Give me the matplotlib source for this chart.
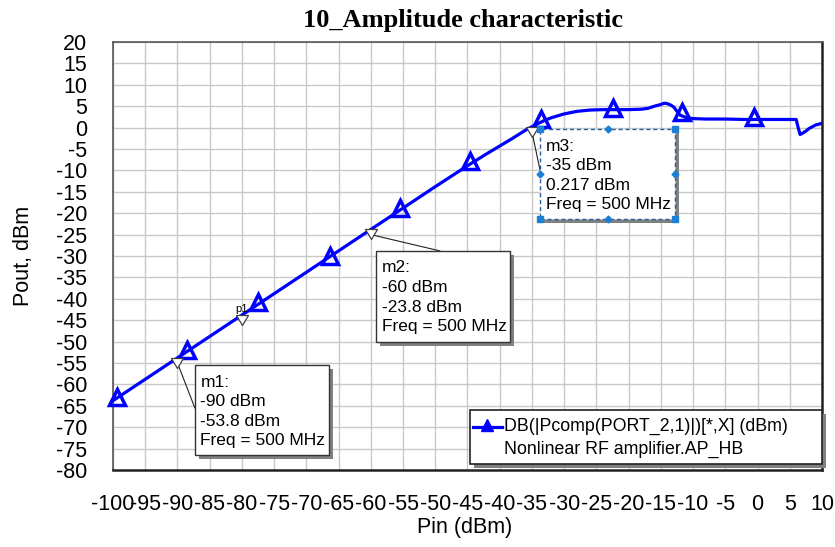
import matplotlib.pyplot as plt
from matplotlib.patches import Rectangle
from matplotlib.path import Path
import matplotlib.patheffects as pe

plt.rcParams['font.family'] = 'Liberation Sans'

# swept input power and output power of the amplifier (dBm)
pin = [-100, -95, -90, -85, -80, -75, -70, -65, -60, -55, -50, -45, -42, -40,
       -38, -36, -35, -34, -33, -32, -30, -28, -26, -24, -22, -20, -18, -17,
       -16, -15, -14.5, -14, -13.5, -13, -12.5, -12, -11, -10, -8, -5, -2, 0,
       2, 4, 6, 6.3, 6.6, 7, 7.5, 8, 9, 10]
pout = [-63.8, -58.8, -53.8, -48.8, -43.8, -38.8, -33.8, -28.8, -23.8, -18.8,
        -13.8, -8.9, -6.1, -4.3, -2.5, -0.6, 0.217, 1.0, 1.7, 2.3, 3.2, 3.8,
        4.1, 4.2, 4.2, 4.2, 4.3, 4.5, 5.0, 5.4, 5.7, 5.6, 5.3, 4.8, 3.8, 2.9,
        2.3, 2.1, 2.0, 2.0, 1.9, 1.9, 1.9, 1.9, 1.9, 0.0, -1.6, -1.3, -0.8,
        -0.2, 0.6, 1.0]

# trace symbols (open triangles)
sym_pin = [-99.4, -88.5, -77.5, -66.3, -55.5, -44.6, -33.6, -22.4, -11.7, -0.6]
sym_pout = [-62.9, -51.9, -40.7, -30.0, -18.8, -7.8, 2.0, 4.6, 3.6, 2.4]

# markers
mk_names = ['m1', 'm2', 'm3']
mk_pin = [-90, -60, -35]
mk_pout = [-53.8, -23.8, 0.217]
p1_pin = -80
p1_pout = -43.8

xticks = list(range(-100, 11, 5))
yticks = list(range(-80, 21, 5))

fig = plt.figure(figsize=(8.35, 5.47), dpi=100)
ax = fig.add_axes([113 / 835, 1 - 470 / 547, 709 / 835, 428 / 547])
ax.set_xlim(-100, 10)
ax.set_ylim(-80, 20)
ax.set_xticks(xticks)
ax.set_yticks(yticks)
ax.set_xticklabels([str(v) for v in xticks])
ax.set_yticklabels([str(v) for v in yticks])
ax.tick_params(axis='both', length=0, labelsize=15.5, colors='black')
ax.tick_params(axis='y', pad=18.5)
ax.tick_params(axis='x', pad=17)
ax.grid(True, color='#c8c8c8', lw=1.0)
ax.set_axisbelow(True)
for s in ['left', 'top']:
    ax.spines[s].set_color('#555555')
    ax.spines[s].set_linewidth(1.2)
for s in ['right', 'bottom']:
    ax.spines[s].set_color('#222222')
    ax.spines[s].set_linewidth(1.8)

ax.plot(pin, pout, color='#0000ff', lw=2.3, zorder=3, solid_joinstyle='round')
ax.plot(sym_pin, sym_pout, ls='none', marker='^', ms=11, mfc='none',
        mec='#0000ff', mew=2.5, zorder=4, clip_on=False)

# hanging marker triangle (top edge on the point)
hang = Path([(-0.6, 0), (0.6, 0), (0, -1), (-0.6, 0)],
            [Path.MOVETO, Path.LINETO, Path.LINETO, Path.CLOSEPOLY])
ax.plot(mk_pin + [p1_pin], mk_pout + [p1_pout], ls='none', marker=hang,
        ms=14.4, mfc='white', mec='#404040', mew=0.9, zorder=6)
ax.annotate('p1', (p1_pin, p1_pout), xytext=(0, 1), textcoords='offset points',
            ha='center', va='bottom', fontsize=8, zorder=6)

shadow = [pe.SimplePatchShadow(offset=(3, -3), shadow_rgbFace='#808080', alpha=1),
          pe.Normal()]


def marker_box(x0, x1, ytop, ybot, lines, anchor, leader_end, selected=False):
    if selected:
        r = Rectangle((x0, ybot), x1 - x0, ytop - ybot, fc='white',
                      ec='#2a5f9e', lw=1.0, ls=(0, (3, 2)), zorder=7,
                      path_effects=shadow)
    else:
        r = Rectangle((x0, ybot), x1 - x0, ytop - ybot, fc='white',
                      ec='#333333', lw=1.0, zorder=7, path_effects=shadow)
    ax.add_patch(r)
    ax.plot([anchor[0], leader_end[0]], [anchor[1] - 1.2, leader_end[1]],
            color='#222222', lw=0.8, zorder=5)
    for i, t in enumerate(lines):
        ax.annotate(t, (x0, ytop), xytext=(4, -12.3 - i * 14.1),
                    textcoords='offset points', ha='left', va='center',
                    fontsize=12.5, zorder=8)
    if selected:
        xm = (x0 + x1) / 2
        ym = (ytop + ybot) / 2
        ax.plot([x0, x1, x0, x1], [ytop, ytop, ybot, ybot], ls='none',
                marker='s', ms=4, color='#1b7fd6', zorder=9)
        ax.plot([xm, xm, x0, x1], [ytop, ybot, ym, ym], ls='none',
                marker='D', ms=3.5, color='#1b7fd6', zorder=9)


marker_box(-87.3, -66.5, -55.5, -76.5,
           ['m1:', '-90 dBm', '-53.8 dBm', 'Freq = 500 MHz'],
           (mk_pin[0], mk_pout[0]), (-87.3, -65.5))
marker_box(-59.2, -38.4, -28.8, -50.1,
           ['m2:', '-60 dBm', '-23.8 dBm', 'Freq = 500 MHz'],
           (mk_pin[1], mk_pout[1]), (-49.3, -28.8))
marker_box(-33.75, -12.8, -0.33, -21.4,
           ['m3:', '-35 dBm', '0.217 dBm', 'Freq = 500 MHz'],
           (mk_pin[2], mk_pout[2]), (-33.75, -9.9), selected=True)

# legend box
leg = Rectangle((-44.6, -78.6), 54.6, 12.6, fc='white', ec='#222222', lw=1.2,
                zorder=7, path_effects=shadow, clip_on=False)
ax.add_patch(leg)
ax.plot([-44.1, -39.7], [-69.9, -69.9], color='#0000ff', lw=2.3, zorder=8)
ax.plot([-41.9], [-69.6], ls='none', marker='^', ms=8, color='#0000ff', zorder=8)
ax.text(-39.3, -69.9, 'DB(|Pcomp(PORT_2,1)|)[*,X] (dBm)', fontsize=12.8,
        va='center', ha='left', zorder=8)
ax.text(-39.3, -75.3, 'Nonlinear RF amplifier.AP_HB', fontsize=12.8,
        va='center', ha='left', zorder=8)

fig.text(463 / 835, 1 - 21 / 547, '10_Amplitude characteristic',
         family='Liberation Serif', weight='bold', fontsize=19,
         ha='center', va='center')
fig.text(24 / 835, 1 - 256 / 547, 'Pout, dBm', rotation=90, fontsize=15.5,
         ha='center', va='center')
fig.text(465 / 835, 1 - 527 / 547, 'Pin (dBm)', fontsize=15.5,
         ha='center', va='center')

plt.savefig('out.png', dpi=100)
